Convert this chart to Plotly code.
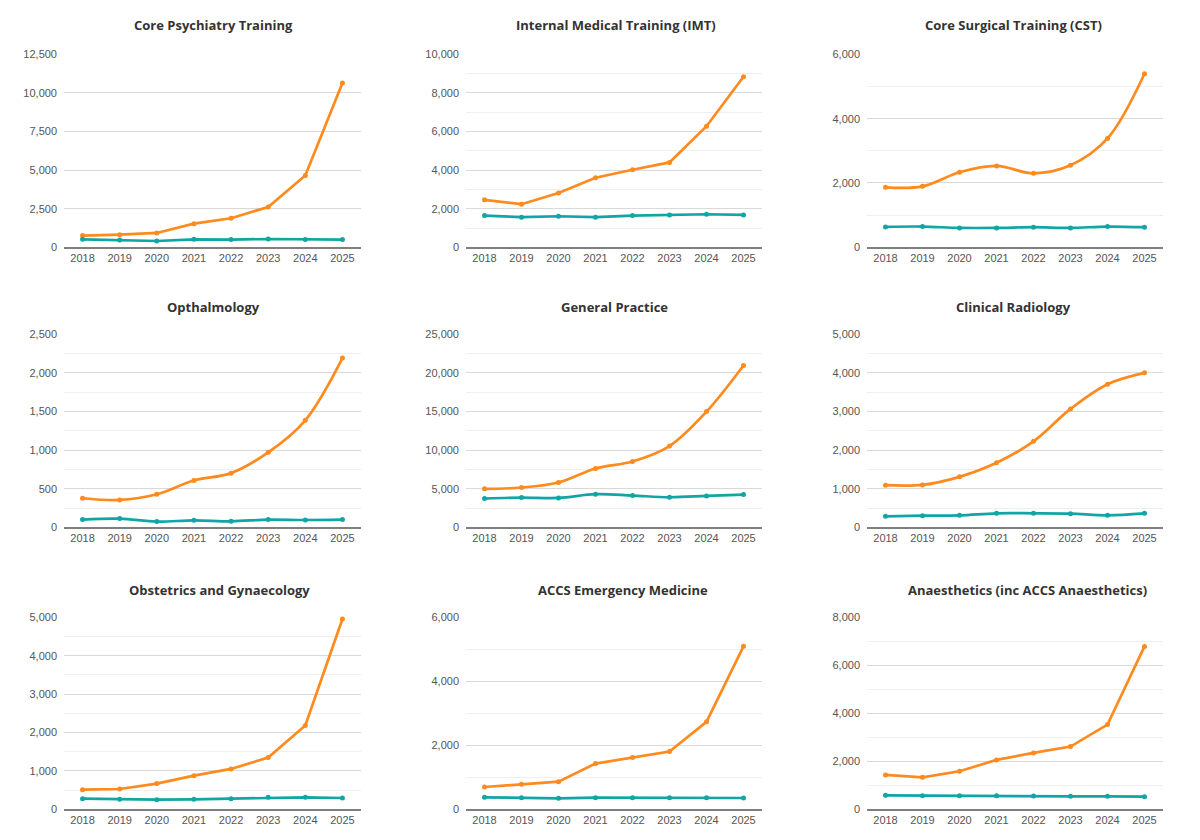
import plotly.graph_objects as go

years = ["2018", "2019", "2020", "2021", "2022", "2023", "2024", "2025"]

titles = [
    "Core Psychiatry Training",
    "Internal Medical Training (IMT)",
    "Core Surgical Training (CST)",
    "Opthalmology",
    "General Practice",
    "Clinical Radiology",
    "Obstetrics and Gynaecology",
    "ACCS Emergency Medicine",
    "Anaesthetics (inc ACCS Anaesthetics)",
]

# orange series (applications) and teal series (posts) per specialty
psych_orange = [760, 820, 930, 1535, 1880, 2617, 4650, 10640]
psych_teal = [520, 475, 410, 520, 500, 540, 500, 500]
imt_orange = [2460, 2235, 2810, 3605, 4020, 4400, 6275, 8840]
imt_teal = [1645, 1560, 1610, 1560, 1645, 1680, 1715, 1680]
cst_orange = [1865, 1896, 2333, 2531, 2302, 2552, 3385, 5396]
cst_teal = [635, 646, 604, 604, 625, 604, 646, 625]
opth_orange = [377, 355, 429, 607, 702, 971, 1387, 2192]
opth_teal = [100, 113, 74, 91, 78, 100, 95, 100]
gp_orange = [4983, 5156, 5806, 7626, 8536, 10529, 14991, 20971]
gp_teal = [3726, 3856, 3813, 4289, 4116, 3900, 4073, 4246]
rad_orange = [1092, 1100, 1308, 1672, 2227, 3068, 3709, 4003]
rad_teal = [286, 303, 312, 364, 364, 355, 312, 364]
og_orange = [513, 530, 670, 878, 1052, 1348, 2183, 4957]
og_teal = [278, 261, 252, 261, 278, 313, 313, 296]
em_orange = [699, 783, 866, 1430, 1618, 1806, 2734, 5093]
em_teal = [376, 365, 344, 365, 365, 360, 360, 355]
an_orange = [1433, 1335, 1586, 2059, 2351, 2615, 3533, 6788]
an_teal = [584, 570, 570, 570, 556, 542, 542, 528]

orange_series = [psych_orange, imt_orange, cst_orange, opth_orange, gp_orange,
                 rad_orange, og_orange, em_orange, an_orange]
teal_series = [psych_teal, imt_teal, cst_teal, opth_teal, gp_teal,
               rad_teal, og_teal, em_teal, an_teal]

y_max = [12500, 10000, 6000, 2500, 25000, 5000, 5000, 6000, 8000]
y_dtick = [2500, 2000, 2000, 500, 5000, 1000, 1000, 2000, 2000]
y_minor = [None, 1000, 1000, 250, 2500, 500, 500, 1000, 1000]
smooth = [False, False, True, True, True, True, False, False, False]

# page body has an 8px margin; figure sized to fit the 1200x840 window
OFF = 8
W, H = 1184, 824
VS, VC = 0.9854, 5.8  # observed vertical mapping of the screenshot


def fy(ref_y):
    """figure-pixel y giving the wanted on-screen y"""
    return (ref_y - VC) / VS - OFF


col_x = [(64, 361), (466, 762), (867, 1163)]
row_y = [(54, 247), (334, 527), (617, 809)]
title_y = [25, 307, 590]
title_x = [213, 616, 1013, 213, 614, 1013, 219, 623, 1027]

ORANGE = "#FF8A1E"
TEAL = "#12A5A6"

fig = go.Figure()
for i in range(9):
    r, c = divmod(i, 3)
    n = i + 1
    xa = "x" if n == 1 else f"x{n}"
    ya = "y" if n == 1 else f"y{n}"
    shape = "spline" if smooth[i] else "linear"
    for vals, col in ((orange_series[i], ORANGE), (teal_series[i], TEAL)):
        fig.add_trace(go.Scatter(
            x=years, y=vals, mode="lines+markers",
            line=dict(color=col, width=2.7, shape=shape, smoothing=1.0),
            marker=dict(color=col, size=5),
            xaxis=xa, yaxis=ya, showlegend=False, cliponaxis=False,
        ))
    x0, x1 = col_x[c]
    yt, yb = row_y[r]
    xkey = "xaxis" if n == 1 else f"xaxis{n}"
    ykey = "yaxis" if n == 1 else f"yaxis{n}"
    minor = dict(showgrid=False)
    if y_minor[i]:
        minor = dict(dtick=y_minor[i], showgrid=True, gridcolor="#EFEFEF", gridwidth=1, ticks="")
    fig.update_layout(**{
        xkey: dict(
            domain=[(x0 - OFF) / W, (x1 - OFF) / W], anchor=ya, type="category",
            range=[-0.5, 7.5], showgrid=False, zeroline=False,
            showline=True, linecolor="#7F7F7F", linewidth=1.5,
            ticks="", tickfont=dict(family="Liberation Sans, Arial", size=11, color="#555555"),
            fixedrange=True,
        ),
        ykey: dict(
            domain=[1 - fy(yb) / H, 1 - fy(yt) / H], anchor=xa,
            range=[0, y_max[i]], dtick=y_dtick[i], tick0=0,
            showgrid=True, gridcolor="#D9D9D9", gridwidth=1,
            zeroline=False, showline=False, ticks="",
            tickformat=",d", ticklabelstandoff=6,
            tickfont=dict(family="Liberation Sans, Arial", size=11, color="#555555"),
            minor=minor, fixedrange=True,
        ),
    })
    fig.add_annotation(
        text=f"<b>{titles[i]}</b>", x=(title_x[i] - OFF) / W, y=1 - fy(title_y[r]) / H,
        xref="paper", yref="paper", xanchor="center", yanchor="middle",
        showarrow=False,
        font=dict(family="Open Sans, Lato, Arial", size=13, color="#333333"),
    )

fig.update_layout(
    width=W, height=H, autosize=False,
    margin=dict(l=0, r=0, t=0, b=0),
    paper_bgcolor="white", plot_bgcolor="white",
)

fig.write_html("out.html")
